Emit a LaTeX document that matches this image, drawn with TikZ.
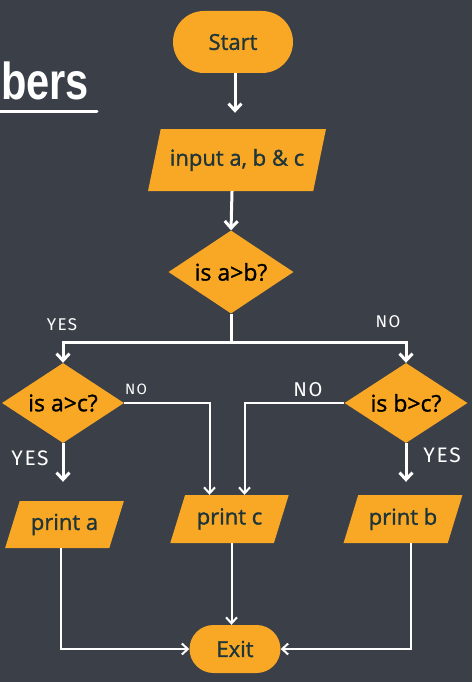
\documentclass[tikz,border=0pt]{standalone}
\usepackage{fontspec}
\setsansfont{Open Sans}[FakeBold=1.3]
\newfontfamily\titlefont[FakeStretch=0.8]{Liberation Sans Bold}
\newfontfamily\markfont[LetterSpace=8]{Fira Sans}
\usepackage{xcolor}
\usepackage{tikz}
\usetikzlibrary{shapes.geometric, arrows.meta, positioning, calc}

\definecolor{bgslate}{HTML}{3A3F48}
\definecolor{floworange}{HTML}{F9A826}
\definecolor{inkdark}{HTML}{1E3539}

\begin{document}
\begin{tikzpicture}[
    x=1pt, y=-1pt,
    terminal/.style={rectangle, rounded corners=23pt, fill=floworange,
                  inner sep=0pt, text=inkdark,
                  font=\sffamily\fontsize{22}{24}\selectfont},
    iobox/.style={trapezium, trapezium left angle=63, trapezium right angle=117,
                  trapezium stretches=true, fill=floworange, inner sep=0pt,
                  text=inkdark, font=\sffamily\fontsize{22}{24}\selectfont},
    decision/.style={diamond, fill=floworange, inner sep=0pt, aspect=1.5,
                  text=black, font=\sffamily\fontsize{23}{25}\selectfont},
    arr/.style={-{Straight Barb[length=7pt, width=13pt]}, white, line width=3pt},
    arrthin/.style={-{Straight Barb[length=6pt, width=11pt]}, white, line width=2pt},
    branchlabel/.style={white, font=\markfont\fontsize{21}{22}\selectfont}
]
    \fill[bgslate] (0,0) rectangle (472,682);
    \useasboundingbox (0,0) rectangle (472,682);

    % cut-off title
    \node[anchor=base west, inner sep=0pt, text=white,
          font=\titlefont\fontsize{52}{54}\selectfont] (title) at (1,100) {bers};
    \draw[white, line width=3pt, line cap=round] (-2,112) -- (97,112);

    \node[terminal, minimum width=120pt, minimum height=62pt, rounded corners=31pt]
          (start) at (233,42) {Start};
    \node[iobox, minimum width=178pt, minimum height=62pt] (input) at (237,160)
          {input a, b \& c};
    \node[decision, minimum width=125pt, minimum height=83pt] (ab) at (231,272)
          {is a>b?};
    \node[decision, minimum width=122pt, minimum height=80pt] (ac) at (63,403)
          {is a>c?};
    \node[decision, minimum width=123pt, minimum height=80pt] (bc) at (406,403)
          {is b>c?};
    \node[iobox, minimum width=119pt, minimum height=47pt] (printa) at (64.5,524.5)
          {print a};
    \node[iobox, minimum width=119pt, minimum height=48pt] (printc) at (229.5,519)
          {print c};
    \node[iobox, minimum width=120pt, minimum height=48pt] (printb) at (403,519)
          {print b};
    \node[terminal, minimum width=91pt, minimum height=48pt, rounded corners=24pt]
          (exit) at (235,649) {Exit};

    \coordinate (split) at (231,342);

    \draw[arr, shorten >=16pt] ([xshift=2pt]start.south) -- ([xshift=2pt]start.south |- input.north);
    \draw[arr] ([xshift=-5pt]input.south) -- (ab.north);
    \draw[white, line width=3pt] (ab.south) -- (split);
    \draw[arr] (split) -| (ac.north);
    \draw[arr] (split) -| (bc.north);

    \draw[arrthin] (ac.east) -| ([xshift=-20pt]printc.north);
    \draw[arrthin] (bc.west) -| ([xshift=15pt]printc.north);
    \draw[arr, shorten >=19pt] (ac.south) -- (ac.south |- printa.north);
    \draw[arr, shorten >=13pt] (bc.south) -- (bc.south |- printb.north);

    \draw[arrthin] ([xshift=-4pt]printa.south) |- (exit.west);
    \draw[arrthin] ([xshift=2pt]printc.south) -- ([xshift=2pt]printc.south |- exit.north);
    \draw[arrthin] ([xshift=8pt]printb.south) |- (exit.east);

    % branch labels
    \node[branchlabel, font=\markfont\fontsize{17}{18}\selectfont] (yesab) at (62,325) {YES};
    \node[branchlabel, font=\markfont\fontsize{17}{18}\selectfont] (noab) at (388,322) {NO};
    \node[branchlabel, font=\markfont\fontsize{15}{16}\selectfont] (noac) at (136,389) {NO};
    \node[branchlabel, font=\markfont\fontsize{20}{22}\selectfont] (nobc) at (308,390) {NO};
    \node[branchlabel] (yesac) at (30,458) {YES};
    \node[branchlabel] (yesbc) at (442,455) {YES};
\end{tikzpicture}
\end{document}
